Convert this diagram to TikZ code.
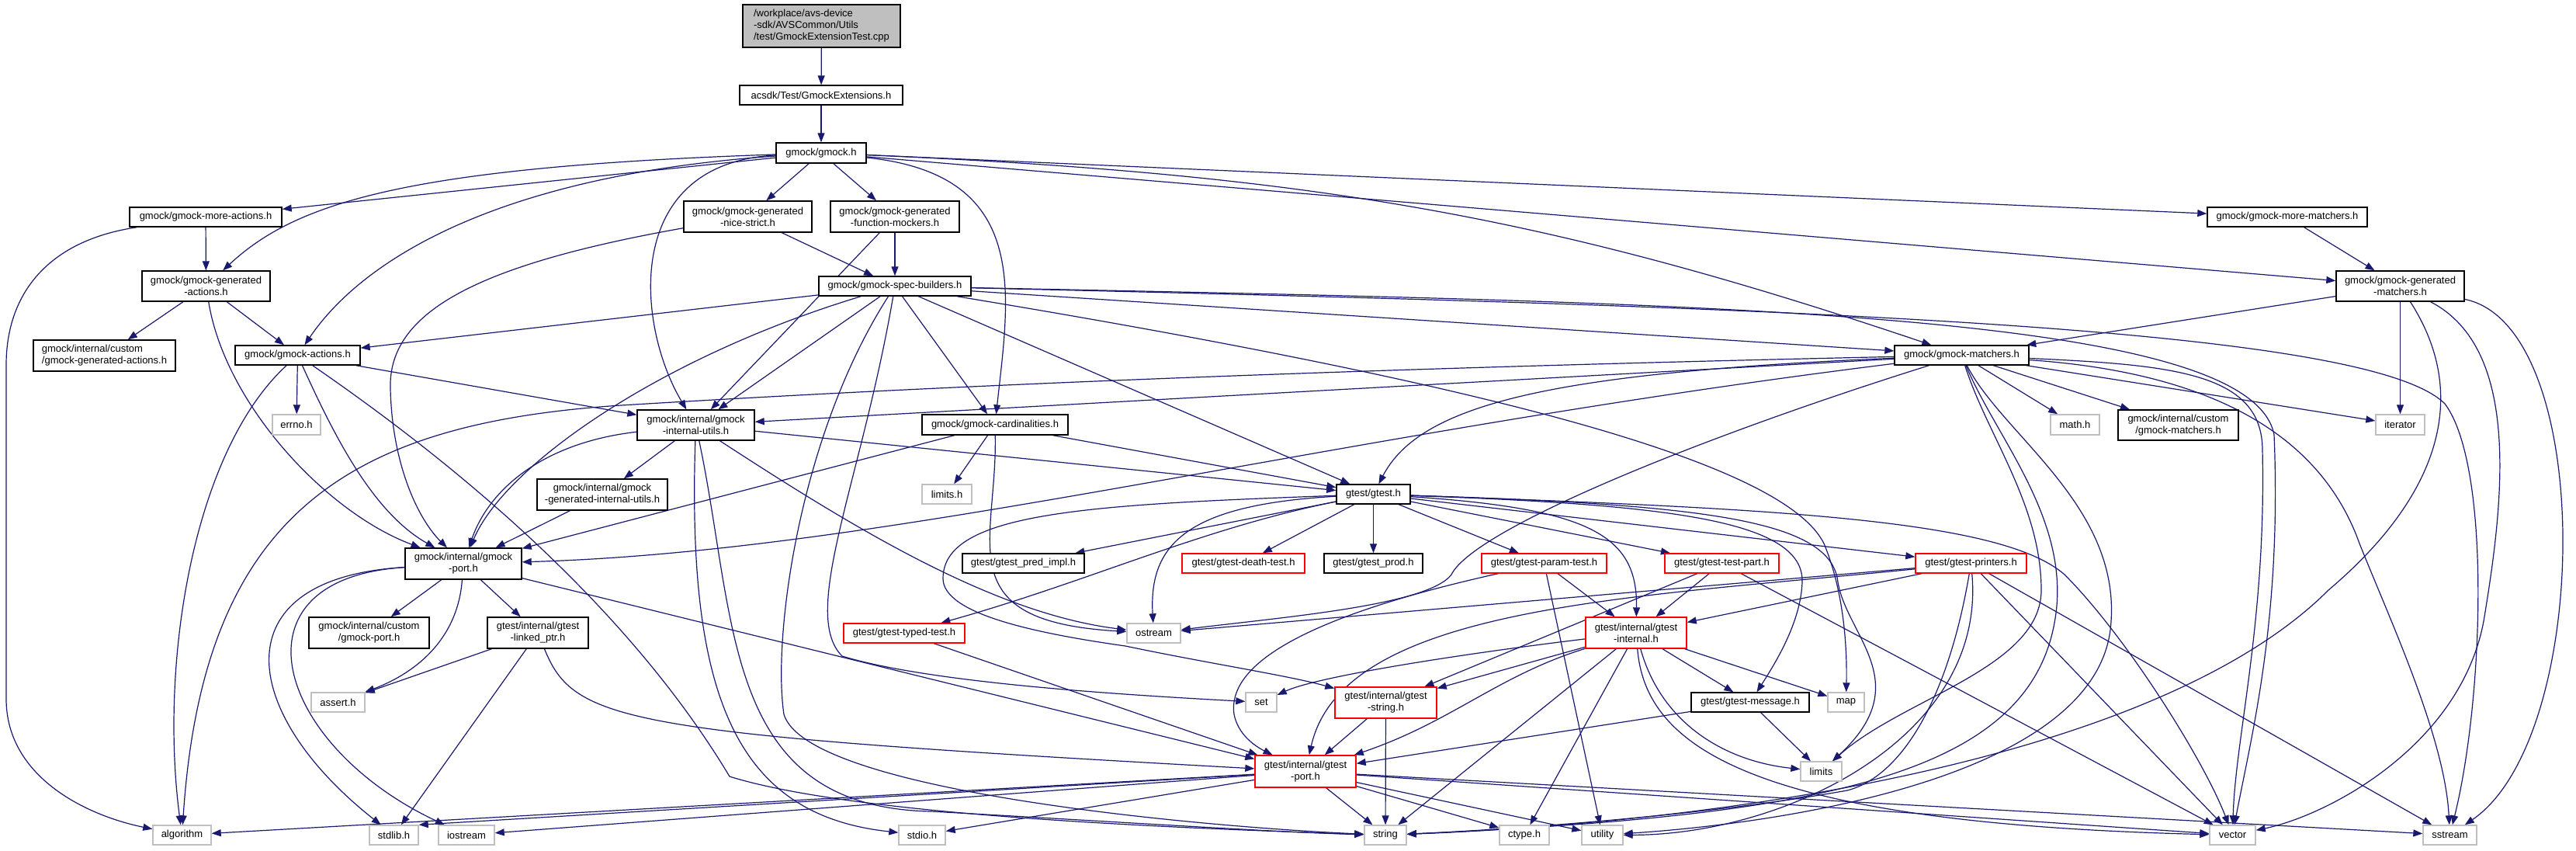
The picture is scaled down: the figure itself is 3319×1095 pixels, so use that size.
\documentclass[tikz,border=0pt]{standalone}
\usepackage{fontspec}
\setmainfont{Liberation Sans}
\usetikzlibrary{arrows.meta}
\pgfdeclarelayer{bg}
\pgfsetlayers{bg,main}
\definecolor{edgec}{HTML}{191970}
\definecolor{grayb}{HTML}{BFBFBF}
\definecolor{redb}{HTML}{FF0000}
\tikzset{
  nb/.style={draw=black, fill=white, line width=1.4pt, rectangle, inner sep=0pt, align=center, font=\fontsize{13}{15}\selectfont},
  gb/.style={nb, draw=grayb},
  rb/.style={nb, draw=redb},
  sz/.style 2 args={minimum width=#1pt, minimum height=#2pt},
  e/.style={draw=edgec, line width=1.2pt, -{Triangle[length=12pt,width=9pt]}},
}
\begin{document}
\begin{tikzpicture}[x=1pt,y=-1pt]
\useasboundingbox (0,0) rectangle (3319,1095);
\begin{pgfonlayer}{bg}
\fill[white] (0,0) rectangle (3319,1095);
\end{pgfonlayer}

% ---------- nodes ----------
\node[nb,fill=grayb,sz={203}{55},align=left] (root) at (1058.5,33.5) {/workplace/avs-device\\-sdk/AVSCommon/Utils\\/test/GmockExtensionTest.cpp};
\node[nb,sz={210}{25}] (acsdk) at (1058,122.5) {acsdk/Test/GmockExtensions.h};
\node[nb,sz={116}{26}] (gmockh) at (1058,197) {gmock/gmock.h};
\node[nb,sz={196}{25}] (moreact) at (265,279.5) {gmock/gmock-more-actions.h};
\node[nb,sz={165}{39}] (genact) at (265.5,368.5) {gmock/gmock-generated\\-actions.h};
\node[nb,sz={165}{40}] (nicestrict) at (963.5,279) {gmock/gmock-generated\\-nice-strict.h};
\node[nb,sz={166}{40}] (funcmock) at (1153,279) {gmock/gmock-generated\\-function-mockers.h};
\node[nb,sz={196}{25}] (specb) at (1153,368.5) {gmock/gmock-spec-builders.h};
\node[nb,sz={206}{25}] (morematch) at (2947,279.5) {gmock/gmock-more-matchers.h};
\node[nb,sz={165}{39}] (genmatch) at (3092.5,368.5) {gmock/gmock-generated\\-matchers.h};
\node[nb,sz={183}{40},align=left] (customgenact) at (134.5,458) {gmock/internal/custom\\/gmock-generated-actions.h};
\node[nb,sz={161}{25}] (actions) at (383.5,457.5) {gmock/gmock-actions.h};
\node[gb,sz={62}{26}] (errno) at (382,547) {errno.h};
\node[nb,sz={151}{39}] (internalutils) at (896.5,547.5) {gmock/internal/gmock\\-internal-utils.h};
\node[nb,sz={188}{26}] (cardinalities) at (1282,547) {gmock/gmock-cardinalities.h};
\node[gb,sz={64}{25}] (limitsh) at (1220,636.5) {limits.h};
\node[nb,sz={173}{25}] (gmockmatchers) at (2527.5,457.5) {gmock/gmock-matchers.h};
\node[nb,sz={95}{25}] (gtesth) at (1769.5,636.5) {gtest/gtest.h};
\node[gb,sz={63}{26}] (mathh) at (2673.5,547) {math.h};
\node[nb,sz={155}{39}] (custommatchers) at (2806.5,547.5) {gmock/internal/custom\\/gmock-matchers.h};
\node[gb,sz={63}{26}] (iterator) at (3092.5,547) {iterator};
\node[nb,sz={168}{40}] (genintutils) at (776,637) {gmock/internal/gmock\\-generated-internal-utils.h};
\node[nb,sz={150}{40}] (gmockport) at (597,726) {gmock/internal/gmock\\-port.h};
\node[nb,sz={155}{40}] (customport) at (475.5,815) {gmock/internal/custom\\/gmock-port.h};
\node[nb,sz={130}{40}] (linkedptr) at (693,815) {gtest/internal/gtest\\-linked\_ptr.h};
\node[gb,sz={69}{25}] (asserth) at (435.5,904.5) {assert.h};
\node[gb,sz={75}{25}] (algorithm) at (234.5,1075.5) {algorithm};
\node[gb,sz={63}{25}] (stdlibh) at (507.5,1075.5) {stdlib.h};
\node[gb,sz={72}{25}] (iostream) at (601,1075.5) {iostream};
\node[nb,sz={157}{25}] (predimpl) at (1318.5,725.5) {gtest/gtest\_pred\_impl.h};
\node[rb,sz={158}{25}] (deathtest) at (1602,725.5) {gtest/gtest-death-test.h};
\node[nb,sz={127}{25}] (gtestprod) at (1769.5,725.5) {gtest/gtest\_prod.h};
\node[rb,sz={161}{25}] (paramtest) at (1989.5,725.5) {gtest/gtest-param-test.h};
\node[rb,sz={147}{25}] (testpart) at (2218.5,725.5) {gtest/gtest-test-part.h};
\node[rb,sz={143}{25}] (printers) at (2539.5,725.5) {gtest/gtest-printers.h};
\node[rb,sz={156}{25}] (typedtest) at (1165,815.5) {gtest/gtest-typed-test.h};
\node[gb,sz={69}{25}] (ostream) at (1486.5,815.5) {ostream};
\node[rb,sz={130}{40}] (gtestinternal) at (2108,815) {gtest/internal/gtest\\-internal.h};
\node[gb,sz={40}{25}] (seth) at (1625,904.5) {set};
\node[rb,sz={131}{40}] (gteststring) at (1785.5,905) {gtest/internal/gtest\\-string.h};
\node[nb,sz={152}{25}] (gtestmessage) at (2255,904.5) {gtest/gtest-message.h};
\node[gb,sz={47}{25}] (maph) at (2378.5,904.5) {map};
\node[gb,sz={53}{25}] (limits) at (2346.5,993.5) {limits};
\node[rb,sz={130}{41}] (gtestport) at (1682,993.5) {gtest/internal/gtest\\-port.h};
\node[gb,sz={60}{25}] (stdioh) at (1188,1075.5) {stdio.h};
\node[gb,sz={54}{25}] (stringh) at (1785,1075.5) {string};
\node[gb,sz={64}{25}] (ctypeh) at (1964,1075.5) {ctype.h};
\node[gb,sz={53}{25}] (utility) at (2064.5,1075.5) {utility};
\node[gb,sz={59}{25}] (vector) at (2876.5,1075.5) {vector};
\node[gb,sz={69}{25}] (sstream) at (3156.5,1075.5) {sstream};

% ---------- edges ----------
\begin{pgfonlayer}{bg}
\draw[e] (root) -- (acsdk);
\draw[e] (acsdk) -- (gmockh);
% gmock.h
\draw[e] (gmockh) -- (moreact);
\draw[e] (gmockh) .. controls (520,215) and (380,262) .. (genact);
\draw[e] (gmockh) .. controls (650,225) and (470,330) .. (actions);
\draw[e] (gmockh) .. controls (800,210) and (820,420) .. (internalutils);
\draw[e] (gmockh) -- (nicestrict);
\draw[e] (gmockh) -- (funcmock);
\draw[e] (gmockh) .. controls (1330,225) and (1300,380) .. (cardinalities);
\draw[e] (gmockh) -- (morematch);
\draw[e] (gmockh) -- (genmatch);
\draw[e] (gmockh) .. controls (1700,225) and (2000,280) .. (gmockmatchers);
% more-actions
\draw[e] (moreact) -- (genact);
\draw[e] (moreact) .. controls (60,310) and (8,380) .. (8,470) -- (8,900) .. controls (8,1000) and (110,1050) .. (algorithm);
% generated-actions
\draw[e] (genact) -- (customgenact);
\draw[e] (genact) -- (actions);
\draw[e] (genact) .. controls (290,520) and (420,660) .. (gmockport);
% nice-strict, function-mockers
\draw[e] (nicestrict) -- (specb);
\draw[e] (nicestrict) .. controls (620,340) and (500,400) .. (503,500) .. controls (505,600) and (540,670) .. (gmockport);
\draw[e] (funcmock) -- (specb);
\draw[e] (funcmock) -- (internalutils);
% spec-builders
\draw[e] (specb) -- (actions);
\draw[e] (specb) .. controls (850,460) and (650,600) .. (gmockport);
\draw[e] (specb) -- (internalutils);
\draw[e] (specb) .. controls (1030,560) and (995,820) .. (1010,920) .. controls (1040,1020) and (1550,1065) .. (stringh);
\draw[e] (specb) .. controls (1110,620) and (1030,790) .. (1085,845) .. controls (1200,880) and (1450,895) .. (seth);
\draw[e] (specb) -- (cardinalities);
\draw[e] (specb) -- (gtesth);
\draw[e] (specb) .. controls (1950,500) and (2300,600) .. (2350,700) .. controls (2375,760) and (2380,830) .. (maph);
\draw[e] (specb) -- (gmockmatchers);
\draw[e] (specb) .. controls (2200,390) and (2900,400) .. (2930,560) .. controls (2940,800) and (2900,950) .. (vector);
\draw[e] (specb) .. controls (2300,395) and (3050,420) .. (3150,520) .. controls (3210,600) and (3200,900) .. (sstream);
% cardinalities
\draw[e] (cardinalities) -- (limitsh);
\draw[e] (cardinalities) .. controls (1285,700) and (1220,800) .. (ostream);
\draw[e] (cardinalities) -- (gmockport);
\draw[e] (cardinalities) -- (gtesth);
% internal-utils
\draw[e] (internalutils) -- (genintutils);
\draw[e] (internalutils) .. controls (700,570) and (630,630) .. (gmockport);
\draw[e] (internalutils) .. controls (885,900) and (950,1050) .. (stdioh);
\draw[e] (internalutils) .. controls (950,800) and (930,1040) .. (1200,1045) .. controls (1500,1062) and (1650,1072) .. (stringh);
\draw[e] (internalutils) .. controls (1100,680) and (1280,790) .. (ostream);
\draw[e] (internalutils) -- (gtesth);
\draw[e] (genintutils) -- (gmockport);
% actions
\draw[e] (actions) -- (errno);
\draw[e] (actions) .. controls (250,580) and (205,850) .. (algorithm);
\draw[e] (actions) .. controls (430,560) and (480,660) .. (gmockport);
\draw[e] (actions) .. controls (620,620) and (820,800) .. (940,1000) .. controls (1100,1050) and (1500,1066) .. (stringh);
\draw[e] (actions) -- (internalutils);
% gmock-port
\draw[e] (gmockport) -- (customport);
\draw[e] (gmockport) .. controls (590,820) and (540,865) .. (asserth);
\draw[e] (gmockport) -- (linkedptr);
\draw[e] (gmockport) .. controls (280,745) and (310,920) .. (stdlibh);
\draw[e] (gmockport) .. controls (290,745) and (355,960) .. (iostream);
\draw[e] (gmockport) -- (gtestport);
% linked_ptr
\draw[e] (linkedptr) -- (asserth);
\draw[e] (linkedptr) -- (stdlibh);
\draw[e] (linkedptr) .. controls (740,930) and (800,945) .. (gtestport);
% gtest.h
\draw[e] (gtesth) -- (predimpl);
\draw[e] (gtesth) -- (deathtest);
\draw[e] (gtesth) -- (gtestprod);
\draw[e] (gtesth) -- (paramtest);
\draw[e] (gtesth) -- (testpart);
\draw[e] (gtesth) -- (printers);
\draw[e] (gtesth) .. controls (1550,680) and (1400,750) .. (typedtest);
\draw[e] (gtesth) .. controls (1530,650) and (1480,700) .. (ostream);
\draw[e] (gtesth) .. controls (1400,650) and (1215,660) .. (1215,745) .. controls (1215,790) and (1330,815) .. (1450,832) .. controls (1560,855) and (1660,870) .. (gteststring);
\draw[e] (gtesth) .. controls (2050,655) and (2110,690) .. (gtestinternal);
\draw[e] (gtesth) .. controls (2150,650) and (2325,670) .. (2322,750) .. controls (2320,800) and (2290,850) .. (gtestmessage);
\draw[e] (gtesth) .. controls (2200,650) and (2360,670) .. (2368,750) .. controls (2380,820) and (2470,880) .. (limits);
\draw[e] (gtesth) .. controls (2300,655) and (2580,670) .. (2660,740) .. controls (2740,820) and (2840,980) .. (vector);
% gmock-matchers
\draw[e] (gmockmatchers) -- (mathh);
\draw[e] (gmockmatchers) -- (custommatchers);
\draw[e] (gmockmatchers) -- (iterator);
\draw[e] (gmockmatchers) -- (internalutils);
\draw[e] (gmockmatchers) .. controls (1500,480) and (1000,510) .. (800,522) .. controls (450,545) and (262,660) .. (algorithm);
\draw[e] (gmockmatchers) .. controls (1700,560) and (1150,710) .. (gmockport);
\draw[e] (gmockmatchers) .. controls (2000,480) and (1830,520) .. (gtesth);
\draw[e] (gmockmatchers) .. controls (2200,560) and (1900,680) .. (1870,740) .. controls (1840,780) and (1650,795) .. (ostream);
\draw[e] (gmockmatchers) .. controls (2560,560) and (2630,650) .. (2630,760) .. controls (2630,860) and (2450,900) .. (limits);
\draw[e] (gmockmatchers) .. controls (2570,560) and (2660,660) .. (2650,780) .. controls (2630,1000) and (2350,1050) .. (stringh);
\draw[e] (gmockmatchers) .. controls (2580,560) and (2730,650) .. (2720,800) .. controls (2710,1000) and (2300,1060) .. (utility);
\draw[e] (gmockmatchers) .. controls (2800,470) and (2915,480) .. (2915,580) .. controls (2920,800) and (2880,950) .. (vector);
\draw[e] (gmockmatchers) .. controls (2850,480) and (2990,560) .. (3040,700) .. controls (3080,800) and (3150,950) .. (sstream);
% generated-matchers
\draw[e] (morematch) -- (genmatch);
\draw[e] (genmatch) -- (gmockmatchers);
\draw[e] (genmatch) -- (iterator);
\draw[e] (genmatch) .. controls (3190,520) and (3130,650) .. (3000,760) .. controls (2800,960) and (2300,1055) .. (stringh);
\draw[e] (genmatch) .. controls (3250,450) and (3225,650) .. (3200,800) .. controls (3170,960) and (3000,1050) .. (vector);
\draw[e] (genmatch) .. controls (3345,420) and (3340,950) .. (sstream);
% gtest children
\draw[e] (typedtest) -- (gtestport);
\draw[e] (paramtest) -- (gtestinternal);
\draw[e] (paramtest) -- (utility);
\draw[e] (paramtest) .. controls (1700,790) and (1580,850) .. (1590,920) .. controls (1595,945) and (1615,960) .. (gtestport);
\draw[e] (testpart) -- (gtestinternal);
\draw[e] (testpart) -- (gteststring);
\draw[e] (testpart) -- (vector);
\draw[e] (printers) -- (gtestinternal);
\draw[e] (printers) -- (ostream);
\draw[e] (printers) .. controls (2100,770) and (1730,780) .. (gtestport);
\draw[e] (printers) .. controls (2510,900) and (2450,1000) .. (2380,1018) .. controls (2200,1050) and (1950,1068) .. (stringh);
\draw[e] (printers) .. controls (2560,950) and (2300,1075) .. (utility);
\draw[e] (printers) -- (vector);
\draw[e] (printers) -- (sstream);
% gtest-internal
\draw[e] (gtestinternal) -- (gteststring);
\draw[e] (gtestinternal) .. controls (1930,870) and (1870,930) .. (gtestport);
\draw[e] (gtestinternal) .. controls (1900,840) and (1700,870) .. (seth);
\draw[e] (gtestinternal) -- (stringh);
\draw[e] (gtestinternal) -- (ctypeh);
\draw[e] (gtestinternal) .. controls (2120,960) and (2250,1060) .. (vector);
\draw[e] (gtestinternal) .. controls (2140,930) and (2220,980) .. (limits);
\draw[e] (gtestinternal) -- (gtestmessage);
\draw[e] (gtestinternal) -- (maph);
% gtest-string, gtest-message
\draw[e] (gteststring) -- (gtestport);
\draw[e] (gteststring) -- (stringh);
\draw[e] (gtestmessage) -- (gtestport);
\draw[e] (gtestmessage) -- (limits);
% gtest-port
\draw[e] (gtestport) -- (algorithm);
\draw[e] (gtestport) -- (stdlibh.north east);
\draw[e] (gtestport) -- (iostream);
\draw[e] (gtestport) -- (stdioh);
\draw[e] (gtestport) -- (stringh);
\draw[e] (gtestport) -- (ctypeh);
\draw[e] (gtestport) -- (utility);
\draw[e] (gtestport) -- (vector);
\draw[e] (gtestport) -- (sstream);
\end{pgfonlayer}
\end{tikzpicture}
\end{document}
